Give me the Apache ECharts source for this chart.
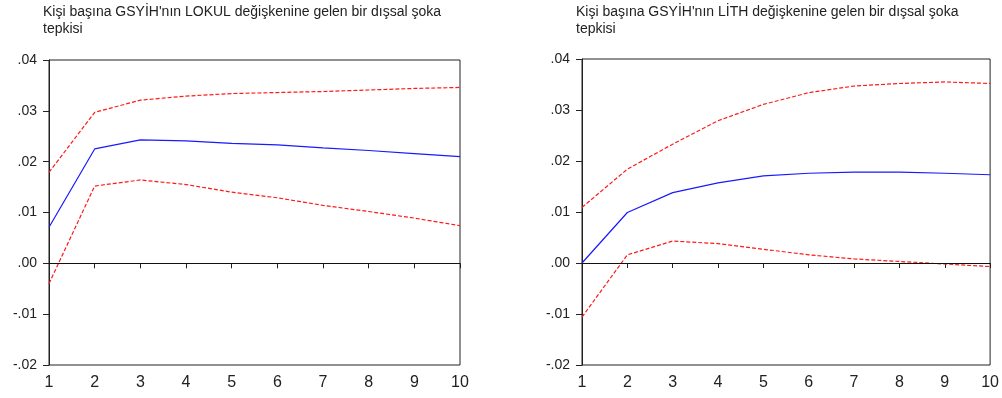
<!DOCTYPE html>
<html>
<head>
<meta charset="utf-8">
<script src="https://cdn.jsdelivr.net/npm/echarts@6/dist/echarts.min.js"></script>
<style>
  html, body { margin: 0; padding: 0; background: #fff; }
  #chart { width: 1002px; height: 398px; }
</style>
</head>
<body>
<div id="chart"></div>
<script>
// periods on the x axis
const periods = [1, 2, 3, 4, 5, 6, 7, 8, 9, 10];

// left panel: response to LOKUL
const lokulTitle = "Kişi başına GSYİH'nın LOKUL değişkenine gelen bir dışsal şoka\ntepkisi";
const lokulResp = [0.0071, 0.0225, 0.0243, 0.0241, 0.0236, 0.0233, 0.0227, 0.0222, 0.0216, 0.0210];
const lokulUpper = [0.0179, 0.0297, 0.0321, 0.0329, 0.0334, 0.0336, 0.0338, 0.0341, 0.0344, 0.0346];
const lokulLower = [-0.0040, 0.0152, 0.0164, 0.0155, 0.0140, 0.0129, 0.0114, 0.0102, 0.0089, 0.0074];

// right panel: response to LİTH
const lithTitle = "Kişi başına GSYİH'nın LİTH değişkenine gelen bir dışsal şoka\ntepkisi";
const lithResp = [0.0000, 0.0099, 0.0138, 0.0157, 0.0171, 0.0176, 0.0178, 0.0178, 0.0176, 0.0173];
const lithUpper = [0.0109, 0.0184, 0.0233, 0.0279, 0.0311, 0.0334, 0.0347, 0.0352, 0.0355, 0.0352];
const lithLower = [-0.0106, 0.0016, 0.0043, 0.0038, 0.0027, 0.0016, 0.0008, 0.0003, -0.0002, -0.0007];

const chart = echarts.init(document.getElementById('chart'));

const fmtY = v => {
  const s = Math.abs(v).toFixed(2).replace(/^0/, '');
  return (v < -1e-9 ? '-' : '') + s;
};

const pairs = d => d.map((v, i) => [periods[i], v]);

const xAxisFor = gridIndex => ({
  type: 'value',
  gridIndex,
  min: 1,
  max: 10,
  interval: 1,
  axisLine: { show: true, lineStyle: { color: '#222', width: 1 } },
  axisTick: { show: true, length: 5, lineStyle: { color: '#222' } },
  axisLabel: { fontFamily: 'Liberation Sans, Arial', fontSize: 16, color: '#222', margin: 10 },
  splitLine: { show: false },
});

const yAxisFor = gridIndex => ({
  type: 'value',
  gridIndex,
  min: -0.02,
  max: 0.04,
  interval: 0.01,
  axisLine: { show: true, lineStyle: { color: '#222', width: 1 } },
  axisTick: { show: true, length: 6, lineStyle: { color: '#222' } },
  axisLabel: { fontFamily: 'Liberation Sans, Arial', fontSize: 14, color: '#222', margin: 12, formatter: fmtY },
  splitLine: { show: false },
});

const mainLine = (idx, data) => ({
  type: 'line',
  xAxisIndex: idx,
  yAxisIndex: idx,
  data: pairs(data),
  symbol: 'none',
  lineStyle: { color: '#1a1aff', width: 1.2 },
  z: 3,
  markLine: {
    silent: true,
    symbol: 'none',
    label: { show: false },
    lineStyle: { color: '#111', type: 'solid', width: 1 },
    data: [{ yAxis: 0 }],
  },
});

const bandLine = (idx, data) => ({
  type: 'line',
  xAxisIndex: idx,
  yAxisIndex: idx,
  data: pairs(data),
  symbol: 'none',
  lineStyle: { color: '#ff1a1a', width: 1.2, type: [4, 2] },
  z: 4,
});

const titleStyle = { fontFamily: 'Liberation Sans, Arial', fontSize: 14, fontWeight: 'normal', color: '#222', lineHeight: 17 };

const option = {
  animation: false,
  backgroundColor: '#fff',
  title: [
    { text: lokulTitle, left: 38, top: -1, textStyle: titleStyle },
    { text: lithTitle, left: 571, top: -1, textStyle: titleStyle },
  ],
  grid: [
    { left: 49, top: 60, width: 411, height: 305, show: true, borderColor: '#222', borderWidth: 1, backgroundColor: 'transparent' },
    { left: 582, top: 59, width: 410, height: 306, show: true, borderColor: '#222', borderWidth: 1, backgroundColor: 'transparent' },
  ],
  xAxis: [xAxisFor(0), xAxisFor(1)],
  yAxis: [yAxisFor(0), yAxisFor(1)],
  series: [
    mainLine(0, lokulResp),
    bandLine(0, lokulUpper),
    bandLine(0, lokulLower),
    mainLine(1, lithResp),
    bandLine(1, lithUpper),
    bandLine(1, lithLower),
  ],
};

chart.setOption(option);
</script>
</body>
</html>
